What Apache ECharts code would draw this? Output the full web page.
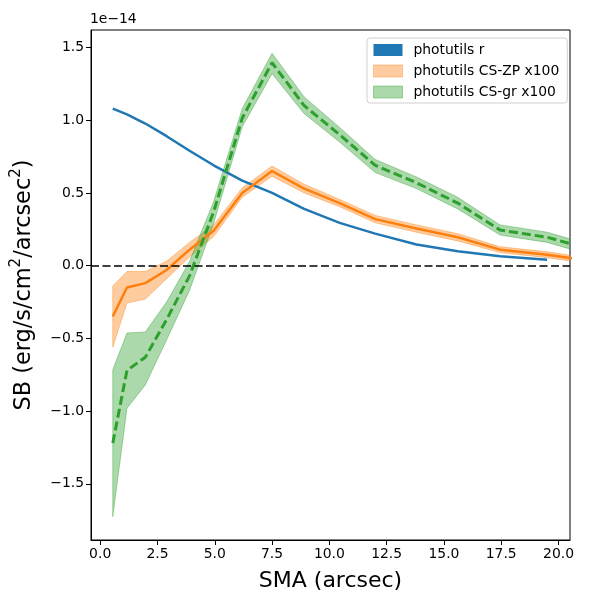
<!DOCTYPE html>
<html>
<head>
<meta charset="UTF-8" />
<title>SB profiles</title>
<script src="https://cdn.jsdelivr.net/npm/echarts@6.0.0/dist/echarts.min.js"></script>
<style>
  html, body { margin: 0; padding: 0; background: #fff; }
  #chart { width: 600px; height: 600px; }
</style>
</head>
<body>
<div id="chart"></div>
<script>
// semi-major axis (arcsec)
var sma = [0.55, 1.17, 1.97, 2.9, 3.9, 4.95, 6.2, 7.5, 8.9, 10.45, 12.0, 13.8, 15.6, 17.45, 19.5, 21.7];

// surface brightness, units of 1e-14 erg/s/cm2/arcsec2
var rSB = [1.08, 1.04, 0.977, 0.89, 0.79, 0.69, 0.585, 0.50, 0.39, 0.294, 0.22, 0.145, 0.099, 0.064, 0.041];

var zpSB = [-0.35, -0.15, -0.12, -0.03, 0.11, 0.24, 0.50, 0.65, 0.53, 0.43, 0.32, 0.255, 0.195, 0.11, 0.075, 0.025];
var zpLo = [-0.56, -0.257, -0.23, -0.09, 0.06, 0.20, 0.47, 0.615, 0.50, 0.405, 0.295, 0.23, 0.17, 0.09, 0.055, 0.005];
var zpHi = [-0.14, -0.04, -0.04, 0.03, 0.16, 0.28, 0.535, 0.685, 0.56, 0.455, 0.345, 0.28, 0.22, 0.13, 0.095, 0.045];

var grSB = [-1.22, -0.72, -0.63, -0.37, -0.07, 0.37, 1.015, 1.395, 1.10, 0.90, 0.69, 0.57, 0.43, 0.245, 0.195, 0.10];
var grLo = [-1.725, -0.98, -0.82, -0.51, -0.17, 0.29, 0.955, 1.32, 1.045, 0.85, 0.64, 0.53, 0.39, 0.21, 0.16, 0.06];
var grHi = [-0.716, -0.463, -0.456, -0.25, 0.03, 0.44, 1.08, 1.46, 1.16, 0.95, 0.73, 0.61, 0.47, 0.28, 0.23, 0.13];

var xTicks = [0, 2.5, 5, 7.5, 10, 12.5, 15, 17.5, 20];
var yTicks = [-1.5, -1.0, -0.5, 0, 0.5, 1.0, 1.5];

var names = ['photutils r', 'photutils CS-ZP x100', 'photutils CS-gr x100'];

function pairs(xs, ys) {
  return ys.map(function (y, i) { return [xs[i], y]; });
}

var orangeFill = 'rgba(255,127,14,0.4)';
var greenFill = 'rgba(44,160,44,0.4)';

// filled band between lo and hi, drawn as one polygon (like fill_between)
function bandSeries(name, lo, hi, fill) {
  var rows = sma.map(function (x, i) { return [x, lo[i], hi[i]]; });
  return {
    type: 'custom', name: name, data: rows, clip: true, silent: true,
    itemStyle: { color: fill },
    encode: { x: 0, y: [1, 2] },
    renderItem: function (params, api) {
      if (params.dataIndex !== 0) return;
      var top = rows.map(function (r) { return api.coord([r[0], r[2]]); });
      var bottom = rows.map(function (r) { return api.coord([r[0], r[1]]); }).reverse();
      return {
        type: 'polygon',
        shape: { points: top.concat(bottom) },
        style: { fill: fill, stroke: fill, lineWidth: 1 }
      };
    }
  };
}

var chart = echarts.init(document.getElementById('chart'), null, { renderer: 'canvas' });

var series = [
  {
    type: 'line', name: names[0], data: pairs(sma, rSB), showSymbol: false, symbol: 'none',
    itemStyle: { color: '#1f77b4' }, lineStyle: { color: '#1f77b4', width: 2.5 }
  },
  bandSeries(names[1], zpLo, zpHi, orangeFill),
  {
    type: 'line', name: 'zp-line', data: pairs(sma, zpSB), showSymbol: false, symbol: 'none',
    lineStyle: { color: '#ff7f0e', width: 2.5 }
  },
  bandSeries(names[2], grLo, grHi, greenFill),
  {
    type: 'line', name: 'gr-line', data: pairs(sma, grSB), showSymbol: false, symbol: 'none',
    lineStyle: { color: '#2ca02c', width: 3, type: [9, 4] },
    markLine: {
      silent: true, symbol: 'none', label: { show: false },
      lineStyle: { color: '#000', width: 1.6, type: [8, 3.5] },
      data: [{ yAxis: 0 }]
    }
  }
];

var fmt = function (v) { return v.toFixed(1).replace('-', '\u2212'); };

var option = {
  animation: false,
  grid: { left: 91, right: 30, top: 30, bottom: 60, show: true, borderColor: '#000', borderWidth: 1 },
  xAxis: {
    type: 'value', min: -0.4, max: 20.5,
    name: 'SMA (arcsec)', nameLocation: 'middle', nameGap: 30,
    nameTextStyle: { fontFamily: 'DejaVu Sans', fontSize: 22, color: '#000' },
    axisLine: { show: true, onZero: false, lineStyle: { color: '#000' } },
    axisTick: { show: true, length: 5, customValues: xTicks, lineStyle: { color: '#000' } },
    axisLabel: { customValues: xTicks, formatter: fmt, margin: 7, fontFamily: 'DejaVu Sans', fontSize: 13.9, color: '#000' },
    splitLine: { show: false }
  },
  yAxis: {
    type: 'value', min: -1.886, max: 1.62,
    name: 'SB (erg/s/cm{s|2}/arcsec{s|2})', nameLocation: 'middle', nameGap: 49,
    nameTextStyle: {
      fontFamily: 'DejaVu Sans', fontSize: 22.4, color: '#000', lineHeight: 31,
      rich: { s: { fontFamily: 'DejaVu Sans', fontSize: 15, color: '#000', verticalAlign: 'top', lineHeight: 15 } }
    },
    axisLine: { show: true, onZero: false, lineStyle: { color: '#000' } },
    axisTick: { show: true, length: 5, customValues: yTicks, lineStyle: { color: '#000' } },
    axisLabel: { customValues: yTicks, formatter: fmt, margin: 7, fontFamily: 'DejaVu Sans', fontSize: 13.9, color: '#000' },
    splitLine: { show: false }
  },
  legend: {
    orient: 'vertical', left: 367, top: 38, selectedMode: false,
    itemWidth: 29, itemHeight: 12, itemGap: 7,
    padding: [5, 8, 4, 6],
    backgroundColor: 'rgba(255,255,255,0.8)', borderColor: '#d0d0d0', borderWidth: 1, borderRadius: 3,
    textStyle: { fontFamily: 'DejaVu Sans', fontSize: 13.9, color: '#000', padding: [0, 0, 0, 6] },
    data: [
      { name: names[0], icon: 'rect', itemStyle: { color: '#1f77b4', borderWidth: 0 } },
      { name: names[1], icon: 'rect', itemStyle: { color: orangeFill, borderColor: orangeFill, borderWidth: 1 } },
      { name: names[2], icon: 'rect', itemStyle: { color: greenFill, borderColor: greenFill, borderWidth: 1 } }
    ]
  },
  graphic: [{
    type: 'text', left: 90, top: 12,
    style: { text: '1e\u221214', fontFamily: 'DejaVu Sans', fontSize: 13.9, fill: '#000' }
  }],
  series: series
};

chart.setOption(option);
</script>
</body>
</html>
